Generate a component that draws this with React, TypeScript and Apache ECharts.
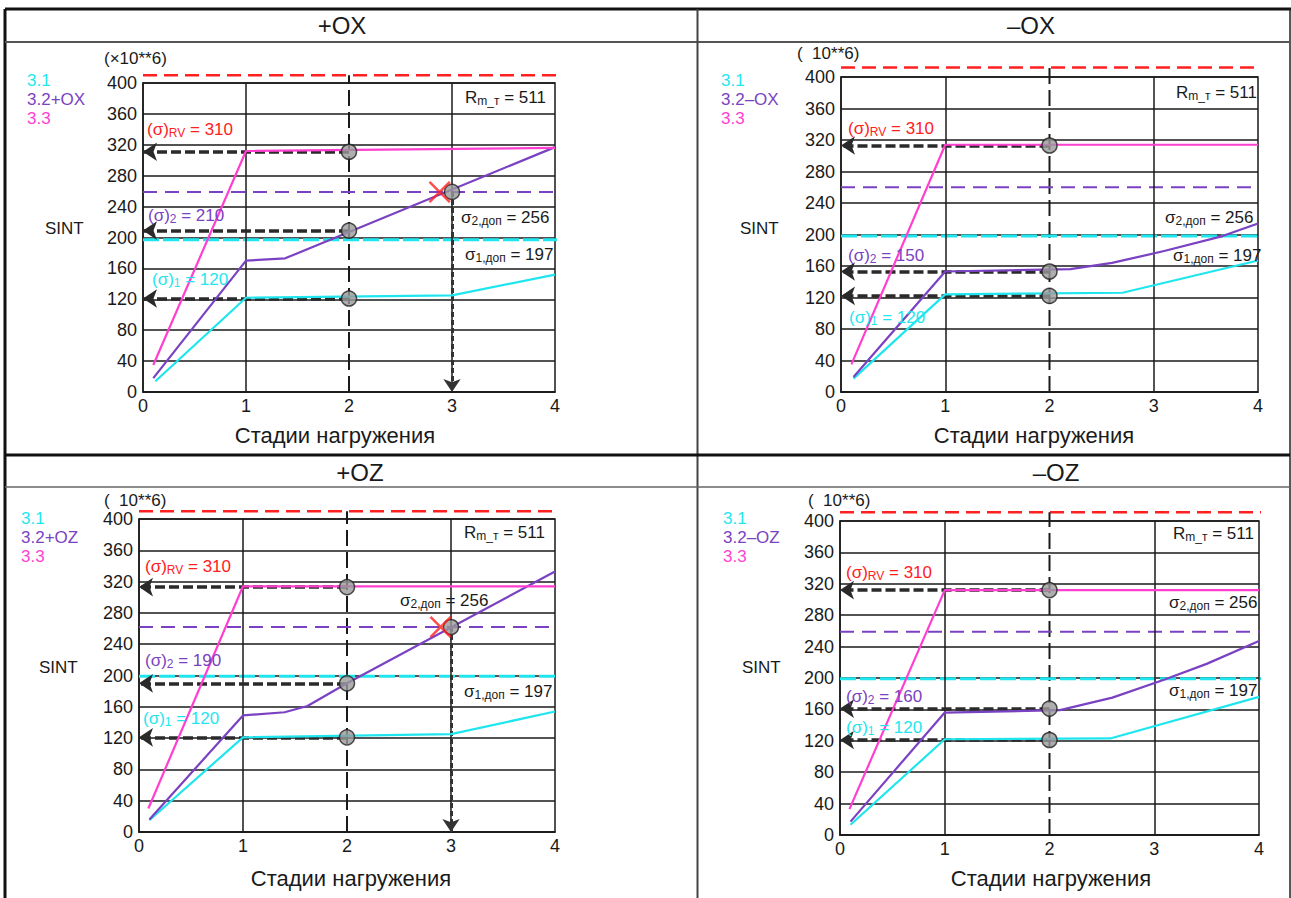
import React, { useEffect, useRef } from "react";
import * as echarts from "echarts";

const FONT = "'Liberation Sans', Arial, sans-serif";
const CYAN = "#1fe6ee";
const PURPLE = "#7a42c2";
const PINK = "#ff3fd0";
const RED = "#ff2020";
const INK = "#1a1a1a";

// ---------- data ----------
const panelTitles = ["+OX", "–OX", "+OZ", "–OZ"];
const legend31 = "3.1";
const legend32 = ["3.2+OX", "3.2–OX", "3.2+OZ", "3.2–OZ"];
const legend33 = "3.3";
const scaleNotes = ["(×10**6)", "(  10**6)", "(  10**6)", "(  10**6)"];
const yName = "SINT";
const xName = "Стадии нагружения";
const xMin = 0, xMax = 4, xStep = 1;
const yMin = 0, yMax = 400, yStep = 40;
const xGridStages = [1, 3];
const checkStage = 2;
const failStage = 3;

// curves (stage, SINT x10^6)
const c31_pOX = [[0.12, 14], [1, 122], [3, 125], [4, 152]];
const c32_pOX = [[0.1, 18], [1, 170], [1.38, 173], [4, 317]];
const c33_pOX = [[0.1, 35], [1, 312], [4, 316]];

const c31_mOX = [[0.12, 17], [1, 124], [2.7, 126], [4, 167]];
const c32_mOX = [[0.12, 19], [1, 153], [2.2, 156], [2.6, 164], [3.1, 179], [3.66, 198], [4, 214]];
const c33_mOX = [[0.1, 35], [1, 314], [4, 314]];

const c31_pOZ = [[0.1, 15], [1, 121], [3, 125], [4, 154]];
const c32_pOZ = [[0.1, 16], [1, 149], [1.4, 153], [1.62, 161], [2, 190], [4, 333]];
const c33_pOZ = [[0.09, 30], [1, 314], [4, 314]];

const c31_mOZ = [[0.1, 13], [1, 122], [2.58, 123], [4, 176]];
const c32_mOZ = [[0.1, 17], [1, 156], [2.1, 159], [2.6, 175], [3.1, 198], [3.5, 218], [4, 247]];
const c33_mOZ = [[0.09, 33], [1, 312], [4, 312]];

// arrow levels read at stage 2: (σ)RV, (σ)2, (σ)1
const arrows_pOX = [311, 209, 121];
const arrows_mOX = [313, 153, 122];
const arrows_pOZ = [313, 190, 121];
const arrows_mOZ = [312, 161, 121];

const limitLine = [410, 412, 410, 411];   // Rm_т level drawn above plot
const sigma2Line = [259, 260, 262, 259];  // σ2,доп dashed
const sigma1Line = [197, 198, 199, 199];  // σ1,доп dashed
const crossPoints = [[2.88, 259], null, [2.9, 262], null];

const sigmaRV = 310;
const sigma2Vals = [210, 150, 190, 160];
const sigma1Val = 120;
const rmVal = 511;
const s2dop = 256;
const s1dop = 197;

// ---------- layout ----------
const layout = [
  { grid: { left: 143, top: 83, width: 412, height: 309 }, title: [342, 25], legend: [27, 80], scale: [104, 58], sint: [45, 228], xTitle: [335, 435], rv: [147, 129], s2: [148, 215], s1: [152, 279], rm: [465, 97], d2: [461, 217], d1: [465, 254] },
  { grid: { left: 841, top: 77, width: 417, height: 315 }, title: [1031, 25], legend: [721, 80], scale: [797, 53], sint: [740, 228], xTitle: [1034, 435], rv: [848, 128], s2: [848, 255], s1: [849, 317], rm: [1176, 92], d2: [1165, 217], d1: [1173, 255] },
  { grid: { left: 139, top: 519, width: 416, height: 313 }, title: [360, 472], legend: [21, 518], scale: [104, 500], sint: [39, 667], xTitle: [351, 878], rv: [145, 566], s2: [145, 660], s1: [143, 718], rm: [464, 532], d2: [400, 600], d1: [464, 691] },
  { grid: { left: 840, top: 521, width: 419, height: 314 }, title: [1056, 472], legend: [723, 518], scale: [808, 500], sint: [742, 667], xTitle: [1051, 878], rv: [846, 572], s2: [846, 696], s1: [846, 727], rm: [1173, 533], d2: [1169, 602], d1: [1169, 690] },
];

const curves = [
  [c31_pOX, c32_pOX, c33_pOX],
  [c31_mOX, c32_mOX, c33_mOX],
  [c31_pOZ, c32_pOZ, c33_pOZ],
  [c31_mOZ, c32_mOZ, c33_mOZ],
];
const arrows = [arrows_pOX, arrows_mOX, arrows_pOZ, arrows_mOZ];

const X_PATH = "path://M0,1.6L1.6,0L10,8.4L18.4,0L20,1.6L11.6,10L20,18.4L18.4,20L10,11.6L1.6,20L0,18.4L8.4,10Z";

function txt(x: number, y: number, text: string, color: string, size = 17, align = "left") {
  return {
    type: "text", x, y, z: 50,
    style: { text, fill: color, fontSize: size, fontFamily: FONT, align, verticalAlign: "middle" },
  };
}

function subTxt(x: number, y: number, a: string, s: string, b: string, color: string) {
  return {
    type: "text", x, y, z: 50,
    style: {
      text: `{n|${a}}{s|${s}}{n|${b}}`,
      fill: color, align: "left", verticalAlign: "middle",
      rich: {
        n: { fontSize: 17, fontFamily: FONT, fill: color, lineHeight: 20 },
        s: { fontSize: 12, fontFamily: FONT, fill: color, lineHeight: 12, verticalAlign: "bottom" },
      },
    },
  };
}

function hLine(x1: number, y1: number, x2: number, y2: number, w: number, c: string) {
  return { type: "line", z: 60, shape: { x1, y1, x2, y2 }, style: { stroke: c, lineWidth: w } };
}

export default function App() {
  const ref = useRef<HTMLDivElement>(null);
  useEffect(() => {
    if (!ref.current) return;
    const chart = echarts.init(ref.current, undefined, { renderer: "svg" });

    const grids: any[] = [];
    const xAxes: any[] = [];
    const yAxes: any[] = [];
    const series: any[] = [];
    const graphic: any[] = [];

    layout.forEach((L, i) => {
      grids.push({ ...L.grid, show: true, borderColor: INK, borderWidth: 1.5, backgroundColor: "transparent" });
      xAxes.push({
        type: "value", gridIndex: i, min: xMin, max: xMax, interval: xStep,
        axisLine: { show: true, lineStyle: { color: INK, width: 1.5 } }, axisTick: { show: false },
        splitLine: { show: false },
        axisLabel: { fontSize: 18, fontFamily: FONT, color: INK, margin: 5 },
      });
      yAxes.push({
        type: "value", gridIndex: i, min: yMin, max: yMax, interval: yStep,
        axisLine: { show: true, lineStyle: { color: INK, width: 1.5 } }, axisTick: { show: false },
        splitLine: { show: true, lineStyle: { color: INK, width: 1.6 } },
        axisLabel: { fontSize: 18, fontFamily: FONT, color: INK, margin: 6 },
      });
      const base = { xAxisIndex: i, yAxisIndex: i, animation: false, silent: true };

      // vertical grid lines at stages 1 and 3
      series.push({
        ...base, type: "line", data: [], z: 1,
        markLine: {
          silent: true, symbol: "none", label: { show: false },
          lineStyle: { color: INK, width: 1.5, type: "solid" },
          data: xGridStages.map((s) => ({ xAxis: s })),
        },
      });
      // limit (red) dashed line above the plot
      series.push({
        ...base, type: "line", clip: false, symbol: "none", z: 3,
        data: [[0, limitLine[i]], [4.02, limitLine[i]]],
        lineStyle: { color: RED, width: 2.5, type: [14, 7] },
      });
      // stage-2 dashed vertical
      series.push({
        ...base, type: "line", clip: false, symbol: "none", z: 3,
        data: [[checkStage, 0], [checkStage, limitLine[i]]],
        lineStyle: { color: INK, width: 2, type: [16, 6] },
      });
      // σ2 allowable dashed
      series.push({
        ...base, type: "line", clip: false, symbol: "none", z: 3,
        data: [[0, sigma2Line[i]], [4.02, sigma2Line[i]]],
        lineStyle: { color: PURPLE, width: 2, type: [14, 8] },
      });
      // σ1 allowable dashed
      series.push({
        ...base, type: "line", clip: false, symbol: "none", z: 3,
        data: [[0, sigma1Line[i]], [4.03, sigma1Line[i]]],
        lineStyle: { color: CYAN, width: 3, type: [16, 4] },
      });
      // arrows from stage 2 to axis
      const mlData: any[] = arrows[i].map((v) => [{ coord: [checkStage, v] }, { coord: [0, v] }]);
      series.push({
        ...base, type: "line", data: [], z: 4,
        markLine: {
          silent: true, symbol: ["none", "arrow"], symbolSize: 14, label: { show: false },
          lineStyle: { color: "#2a2a2a", width: 3.5, type: [10, 4] },
          data: mlData,
        },
      });
      const cross = crossPoints[i];
      if (cross) {
        series.push({
          ...base, type: "line", data: [], z: 4,
          markLine: {
            silent: true, symbol: ["none", "arrow"], symbolSize: 13, label: { show: false },
            lineStyle: { color: "#333", width: 3, type: [5, 3] },
            data: [[{ coord: [failStage, sigma2Line[i]] }, { coord: [failStage, 0] }]],
          },
        });
      }
      // curves
      const cols = [CYAN, PURPLE, PINK];
      const names = [legend31, legend32[i], legend33];
      curves[i].forEach((d, k) => {
        series.push({
          ...base, type: "line", name: names[k], data: d, symbol: "none", z: 6,
          lineStyle: { color: cols[k], width: 2.2 },
        });
      });
      // circles
      const pts: any[] = arrows[i].map((v) => [checkStage, v]);
      if (cross) pts.push([failStage, sigma2Line[i]]);
      series.push({
        ...base, type: "scatter", data: pts, symbol: "circle", symbolSize: 15, z: 8,
        itemStyle: { color: "#9a9a9a", borderColor: "#222", borderWidth: 1.5 },
      });
      if (cross) {
        series.push({
          ...base, type: "scatter", data: [cross], symbol: X_PATH, symbolSize: 22, z: 9,
          itemStyle: { color: RED },
        });
      }

      // texts
      graphic.push(txt(L.title[0], L.title[1], panelTitles[i], INK, 24, "center"));
      graphic.push(txt(L.legend[0], L.legend[1], legend31, CYAN));
      graphic.push(txt(L.legend[0], L.legend[1] + 19, legend32[i], PURPLE));
      graphic.push(txt(L.legend[0], L.legend[1] + 38, legend33, PINK));
      graphic.push(txt(L.scale[0], L.scale[1], scaleNotes[i], INK));
      graphic.push(txt(L.sint[0], L.sint[1], yName, INK));
      graphic.push(txt(L.xTitle[0], L.xTitle[1], xName, INK, 22, "center"));
      graphic.push(subTxt(L.rv[0], L.rv[1], "(σ)", "RV", ` = ${sigmaRV}`, RED));
      graphic.push(subTxt(L.s2[0], L.s2[1], "(σ)", "2", ` = ${sigma2Vals[i]}`, PURPLE));
      graphic.push(subTxt(L.s1[0], L.s1[1], "(σ)", "1", ` = ${sigma1Val}`, CYAN));
      graphic.push(subTxt(L.rm[0], L.rm[1], "R", "m_т", ` = ${rmVal}`, INK));
      graphic.push(subTxt(L.d2[0], L.d2[1], "σ", "2,доп", ` = ${s2dop}`, INK));
      graphic.push(subTxt(L.d1[0], L.d1[1], "σ", "1,доп", ` = ${s1dop}`, INK));
    });

    // table frame
    graphic.push(hLine(5, 9, 1291, 9, 3, "#111"));
    graphic.push(hLine(5, 9, 5, 898, 3, "#111"));
    graphic.push(hLine(1290, 9, 1290, 898, 1.5, "#222"));
    graphic.push(hLine(5, 42, 1290, 42, 2, "#555"));
    graphic.push(hLine(697.5, 9, 697.5, 898, 2, "#444"));
    graphic.push(hLine(5, 455, 1290, 455, 3, "#111"));
    graphic.push(hLine(5, 487, 1290, 487, 1.5, "#666"));

    chart.setOption({
      animation: false,
      backgroundColor: "#ffffff",
      grid: grids,
      xAxis: xAxes,
      yAxis: yAxes,
      series,
      graphic,
    });
    return () => chart.dispose();
  }, []);
  return (
    <div
      ref={ref}
      style={{ position: "absolute", left: 0, top: 0, width: 1291, height: 898, background: "#fff" }}
    />
  );
}
